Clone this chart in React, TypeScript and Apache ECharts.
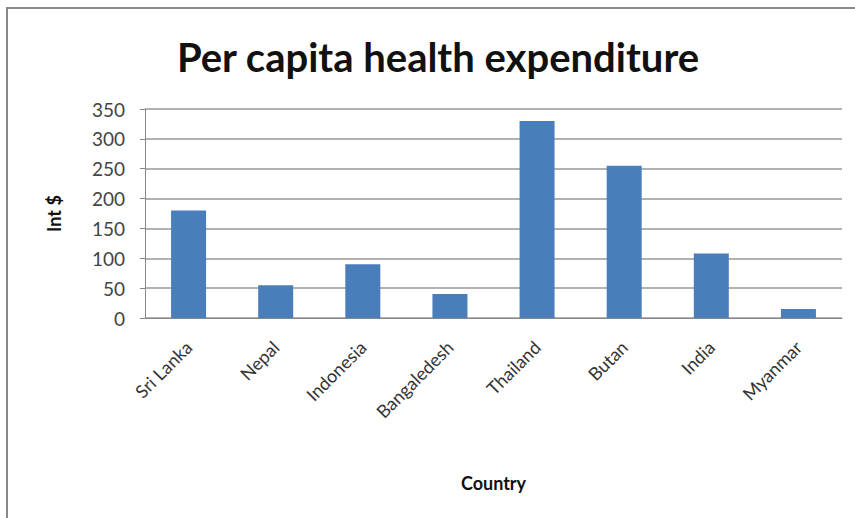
import React, { useEffect, useRef } from "react";
import * as echarts from "echarts";

const categories = ["Sri Lanka", "Nepal", "Indonesia", "Bangaledesh", "Thailand", "Butan", "India", "Myanmar"];
const values = [180, 55, 90, 40, 330, 255, 108, 15];
const yTicks = { min: 0, max: 350, interval: 50 };

export default function App() {
  const ref = useRef<HTMLDivElement>(null);
  useEffect(() => {
    const chart = echarts.init(ref.current!, null, { renderer: "svg" });
    chart.setOption({
      animation: false,
      backgroundColor: "#ffffff",
      title: {
        text: "Per capita health expenditure",
        left: 433,
        textAlign: "center",
        top: 32,
        textStyle: { fontFamily: "Lato", fontSize: 40, fontWeight: "bold", color: "#111" },
      },
      graphic: [
        {
          type: "rect",
          shape: { x: 7, y: 8, width: 860, height: 520 },
          style: { fill: "none", stroke: "#8a8a8a", lineWidth: 2 },
        },
      ],
      grid: { left: 145, right: 13, top: 109, bottom: 200 },
      xAxis: {
        type: "category",
        data: categories,
        name: "Country",
        nameLocation: "middle",
        nameGap: 156,
        nameTextStyle: { fontFamily: "Lato", fontSize: 18, fontWeight: "bold", color: "#111" },
        axisTick: { show: false },
        axisLine: { lineStyle: { color: "#888", width: 1 } },
        axisLabel: { rotate: 45, fontFamily: "Lato", fontSize: 18, color: "#333", margin: 26, interval: 0 },
      },
      yAxis: {
        type: "value",
        min: yTicks.min,
        max: yTicks.max,
        interval: yTicks.interval,
        name: "Int $",
        nameLocation: "middle",
        nameGap: 82,
        nameTextStyle: { fontFamily: "Lato", fontSize: 18, fontWeight: "bold", color: "#111" },
        axisLine: { show: true, lineStyle: { color: "#888" } },
        axisTick: { show: true, length: 5, lineStyle: { color: "#888" } },
        axisLabel: { fontFamily: "Lato", fontSize: 19, color: "#444", margin: 20 },
        splitLine: { lineStyle: { color: "#999", width: 1.5 } },
      },
      series: [
        {
          type: "bar",
          data: values,
          barWidth: 35,
          itemStyle: { color: "#4a7ebb" },
        },
      ],
    });
    return () => chart.dispose();
  }, []);
  return <div ref={ref} style={{ position: "absolute", left: 0, top: 0, width: 855, height: 518 }} />;
}
